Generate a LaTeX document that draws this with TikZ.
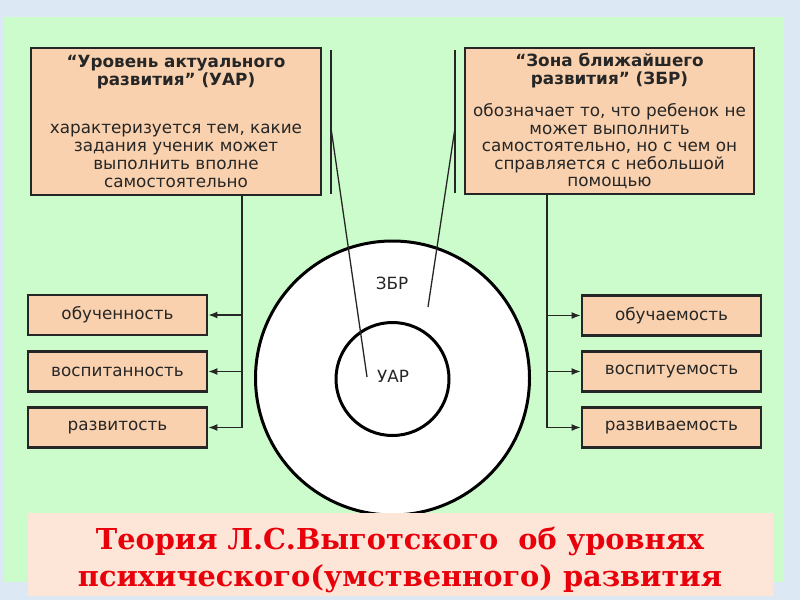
\documentclass[tikz,border=0pt]{standalone}
\usepackage{fontspec}
\setmainfont{DejaVu Sans}
\newfontfamily\titlefont{DejaVu Serif}
\usetikzlibrary{arrows.meta}
\definecolor{bgblue}{HTML}{DDE8F5}
\definecolor{panelgreen}{HTML}{CCFCCC}
\definecolor{peach}{HTML}{F9D1AE}
\definecolor{bannerpink}{HTML}{FDE6D8}
\definecolor{titlered}{HTML}{E8000B}
\definecolor{ink}{HTML}{262626}
\tikzset{
  bigbox/.style={draw=ink, line width=2.8pt, fill=peach, minimum width=#1, inner sep=0pt, align=center, text=ink, font=\fontsize{16.8}{18}\selectfont},
  smallbox/.style={draw=ink, line width=2.8pt, fill=peach, minimum width=179pt, minimum height=40pt, inner sep=0pt, text=ink, font=\fontsize{16.8}{18}\selectfont},
  ring/.style={circle, draw=black, line width=3pt, fill=white, inner sep=0pt},
  conn/.style={draw=ink, line width=1.3pt},
  arr/.style={conn, -{Latex[length=9pt,width=7pt]}},
  lbl/.style={text=ink, font=\fontsize{16.8}{18}\selectfont},
}
\begin{document}
\begin{tikzpicture}[x=1pt,y=-1pt]
\useasboundingbox (0,0) rectangle (800,600);
\fill[bgblue] (0,0) rectangle (800,600);
\fill[panelgreen] (4,17) rectangle (784,582);

% top boxes
\node[bigbox=290pt, minimum height=147pt] (uar) at (176,121.5)
  {\textbf{“Уровень актуального}\\\textbf{развития” (УАР)}\\[30pt]
   характеризуется тем, какие\\задания ученик может\\выполнить вполне\\самостоятельно};
\node[bigbox=289pt, minimum height=146pt] (zbr) at (609.5,121)
  {\textbf{“Зона ближайшего}\\\textbf{развития” (ЗБР)}\\[14pt]
   обозначает то, что ребенок не\\[-0.5pt]может выполнить\\[-0.5pt]самостоятельно, но с чем он\\[-0.5pt]справляется с небольшой\\[-0.5pt]помощью};

% small boxes left
\node[smallbox] (l1) at (117.5,315) {обученность};
\node[smallbox] (l2) at (117.5,371.5) {воспитанность};
\node[smallbox] (l3) at (117.5,427.5) {развитость};
% small boxes right
\node[smallbox] (r1) at (671.5,315.5) {обучаемость};
\node[smallbox] (r2) at (671.5,371.5) {воспитуемость};
\node[smallbox] (r3) at (671.5,427.5) {развиваемость};

% circles
\node[ring, minimum size=274pt] (outer) at (392.5,378) {};
\node[ring, minimum size=113pt] (inner) at (392.5,379) {};
\node[lbl] (zlbl) at (392,283) {ЗБР};
\node[lbl] (ulbl) at (393,376) {УАР};

% left trunk
\coordinate (ltx) at (242,0);
\coordinate (lj1) at (l1.east -| ltx);
\coordinate (lj2) at (l2.east -| ltx);
\coordinate (lj3) at (l3.east -| ltx);
\draw[conn] (uar.south -| ltx) -- (lj3);
\draw[arr] (lj1) -- (l1.east);
\draw[arr] (lj2) -- (l2.east);
\draw[arr] (lj3) -- (l3.east);

% right trunk
\coordinate (rtx) at (547,0);
\coordinate (rj1) at (r1.west -| rtx);
\coordinate (rj2) at (r2.west -| rtx);
\coordinate (rj3) at (r3.west -| rtx);
\draw[conn] (zbr.south -| rtx) -- (rj3);
\draw[arr] (rj1) -- (r1.west);
\draw[arr] (rj2) -- (r2.west);
\draw[arr] (rj3) -- (r3.west);

% bracket lines
\coordinate (ua) at (331,50);
\coordinate (ub) at (331,194);
\coordinate (um) at (331,128);
\coordinate (ue) at (367,377);
\draw[conn] (ua) -- (ub);
\draw[conn] (um) -- (ue);
\coordinate (za) at (455,50);
\coordinate (zb) at (455,193);
\coordinate (zm) at (455,128);
\coordinate (ze) at (428,307);
\draw[conn] (za) -- (zb);
\draw[conn] (zm) -- (ze);

% banner
\fill[bannerpink] (28,513) rectangle (773,596);
\node[text=titlered, font=\titlefont\bfseries\fontsize{28.8}{37}\selectfont, align=center] (title) at (400,560)
  {Теория Л.С.Выготского\ \ об уровнях\\психического(умственного) развития};
\end{tikzpicture}
\end{document}
